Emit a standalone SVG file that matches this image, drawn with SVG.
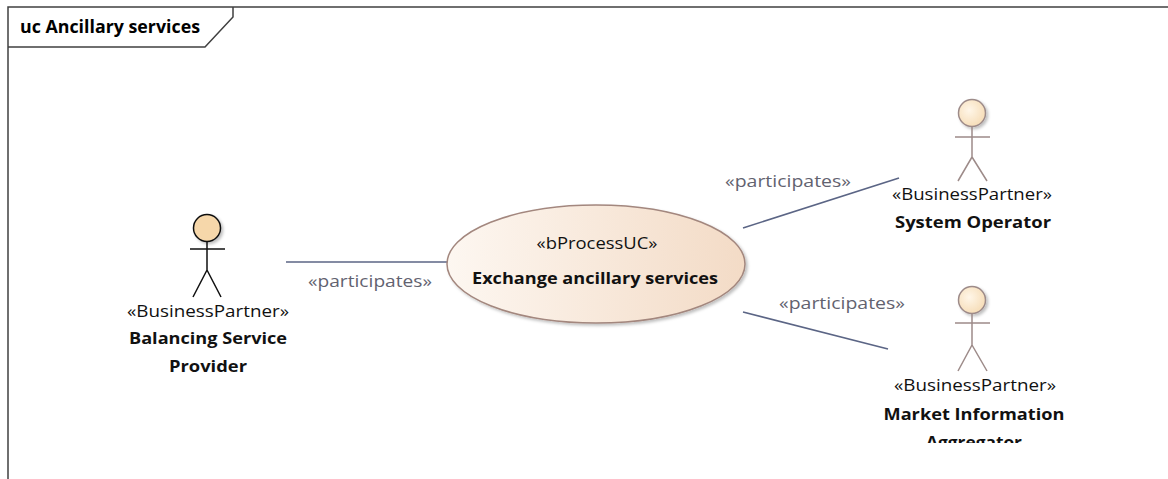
<svg xmlns="http://www.w3.org/2000/svg" width="1168" height="479" viewBox="0 0 1168 479">
  <defs>
    <linearGradient id="ucFill" x1="0" y1="0" x2="1" y2="0">
      <stop offset="0" stop-color="#fdf7f1"/>
      <stop offset="1" stop-color="#f3dbc6"/>
    </linearGradient>
    <radialGradient id="headFill" cx="0.4" cy="0.4" r="0.7">
      <stop offset="0" stop-color="#fff6e8"/>
      <stop offset="1" stop-color="#f5dab2"/>
    </radialGradient>
    <filter id="shadow" x="-20%" y="-20%" width="150%" height="150%">
      <feDropShadow dx="2" dy="2" stdDeviation="1.5" flood-color="#000" flood-opacity="0.25"/>
    </filter>
    <clipPath id="miaClip">
      <rect x="860" y="370" width="230" height="73"/>
    </clipPath>
  </defs>
  <style>
    .frame { fill: none; stroke: #404040; stroke-width: 1.5; }
    .title { font-family: "Open Sans", "Liberation Sans", sans-serif; font-weight: bold; font-size: 17px; fill: #000; }
    .stereo { font-family: "Open Sans", "Liberation Sans", sans-serif; font-size: 16.5px; fill: #111; text-anchor: middle; }
    .name { font-family: "Open Sans", "Liberation Sans", sans-serif; font-weight: bold; font-size: 16.5px; fill: #111; text-anchor: middle; }
    .lbl { font-family: "Open Sans", "Liberation Sans", sans-serif; font-size: 16.5px; fill: #62626f; text-anchor: middle; }
    .conn { stroke: #5b6585; stroke-width: 1.6; fill: none; }
    .actorDark { stroke: #111; stroke-width: 1.5; fill: none; }
    .actorLight { stroke: #9d8b89; stroke-width: 1.5; fill: none; }
  </style>

  <rect width="1168" height="479" fill="#fff"/>

  <g id="frame">
    <path class="frame" d="M8,479 L8,7 L1168,7"/>
    <path class="frame" d="M8,47 L205,47 L233,17 L233,7"/>
    <text class="title" x="20" y="33" textLength="180" lengthAdjust="spacingAndGlyphs">uc Ancillary services</text>
  </g>

  <g id="connectors">
    <line class="conn" x1="286" y1="262" x2="448" y2="262"/>
    <line class="conn" x1="743" y1="228" x2="899" y2="178"/>
    <line class="conn" x1="743" y1="312" x2="888" y2="349"/>
    <text class="lbl" x="370" y="287" textLength="124" lengthAdjust="spacingAndGlyphs">«participates»</text>
    <text class="lbl" x="788" y="187" textLength="126" lengthAdjust="spacingAndGlyphs">«participates»</text>
    <text class="lbl" x="842" y="309" textLength="126" lengthAdjust="spacingAndGlyphs">«participates»</text>
  </g>

  <g id="uc-exchange">
    <ellipse cx="596" cy="264" rx="149" ry="59" fill="url(#ucFill)" stroke="#a3877e" stroke-width="1.5" filter="url(#shadow)"/>
    <text class="stereo" x="597" y="249" textLength="121" lengthAdjust="spacingAndGlyphs">«bProcessUC»</text>
    <text class="name" x="595" y="284" textLength="246" lengthAdjust="spacingAndGlyphs">Exchange ancillary services</text>
  </g>

  <g id="actor-bsp">
    <circle cx="207" cy="228" r="13.5" fill="#f6d7aa" stroke="#111" stroke-width="1.5" filter="url(#shadow)"/>
    <path class="actorDark" d="M207,241.5 L207,270 M190,249 L225,249 M207,270 L193,297 M207,270 L221,297"/>
    <text class="stereo" x="208" y="317" textLength="162" lengthAdjust="spacingAndGlyphs">«BusinessPartner»</text>
    <text class="name" x="208" y="344" textLength="158" lengthAdjust="spacingAndGlyphs">Balancing Service</text>
    <text class="name" x="208" y="372" textLength="78" lengthAdjust="spacingAndGlyphs">Provider</text>
  </g>

  <g id="actor-so">
    <circle cx="972" cy="113" r="13.5" fill="url(#headFill)" stroke="#9d8b89" stroke-width="1.5" filter="url(#shadow)"/>
    <path class="actorLight" d="M972,126.5 L972,157 M955,137 L990,137 M972,157 L958,181 M972,157 L987,181"/>
    <text class="stereo" x="972" y="200" textLength="160" lengthAdjust="spacingAndGlyphs">«BusinessPartner»</text>
    <text class="name" x="973" y="228" textLength="156" lengthAdjust="spacingAndGlyphs">System Operator</text>
  </g>

  <g id="actor-mia">
    <circle cx="972" cy="300" r="13.5" fill="url(#headFill)" stroke="#9d8b89" stroke-width="1.5" filter="url(#shadow)"/>
    <path class="actorLight" d="M972,313.5 L972,345 M955,323 L990,323 M972,345 L958,371 M972,345 L987,371"/>
    <text class="stereo" x="975" y="391" textLength="162" lengthAdjust="spacingAndGlyphs">«BusinessPartner»</text>
    <text class="name" x="974" y="420" textLength="181" lengthAdjust="spacingAndGlyphs">Market Information</text>
    <text class="name" x="974" y="448" textLength="96" lengthAdjust="spacingAndGlyphs" clip-path="url(#miaClip)">Aggregator</text>
  </g>
</svg>
